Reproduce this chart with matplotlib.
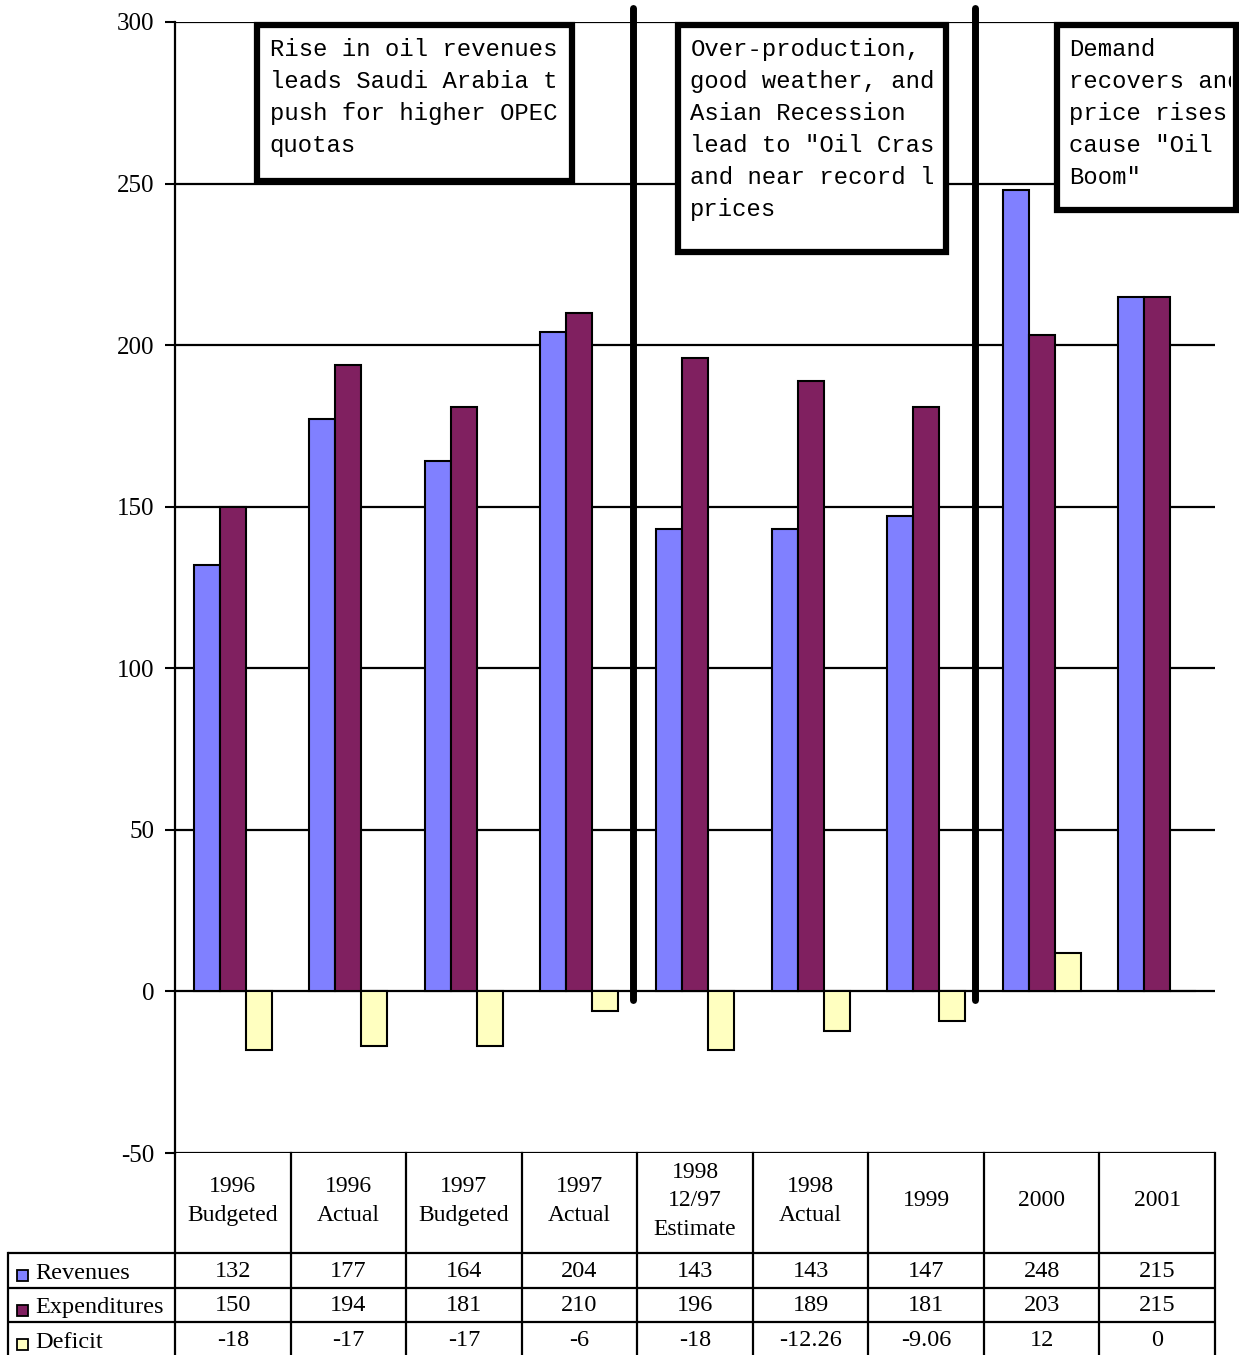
import numpy as np
import matplotlib
matplotlib.use("Agg")
import matplotlib.pyplot as plt
from matplotlib.patches import Rectangle

plt.rcParams['font.family'] = ['Liberation Serif', 'DejaVu Serif']
plt.rcParams['axes.unicode_minus'] = False

# data
categories = ["1996\nBudgeted", "1996\nActual", "1997\nBudgeted", "1997\nActual",
              "1998\n12/97\nEstimate", "1998\nActual", "1999", "2000", "2001"]
revenues = [132, 177, 164, 204, 143, 143, 147, 248, 215]
expenditures = [150, 194, 181, 210, 196, 189, 181, 203, 215]
deficit = [-18, -17, -17, -6, -18, -12.26, -9.06, 12, 0]
series_names = ["Revenues", "Expenditures", "Deficit"]
colors = ["#8080FF", "#802060", "#FFFFC0"]

notes = [
    ["Rise in oil revenues", "leads Saudi Arabia to", "push for higher OPEC", "quotas"],
    ["Over-production,", "good weather, and", "Asian Recession", "lead to \"Oil Crash\"",
     "and near record low", "prices"],
    ["Demand", "recovers and", "price rises", "cause \"Oil", "Boom\""],
]
# note boxes: (x0, x1, y_top, y_bottom) in data units, and where the text gets cut
note_boxes = [(0.21, 2.935, 299.1, 250.8), (3.85, 6.17, 299.1, 228.8), (7.13, 8.685, 299.1, 241.8)]
clip_margin = [0.11, 0.11, 0.05]
dividers = [3.463, 6.423]

W, H = 1239, 1355
fig = plt.figure(figsize=(W / 100, H / 100), dpi=100)
ax = fig.add_axes([175 / W, 1 - 1153 / H, (1215 - 175) / W, (1153 - 22) / H])

x = np.arange(len(categories))
bw = 0.225
ax.bar(x - bw, revenues, bw, color=colors[0], edgecolor="black", linewidth=1.5, zorder=3)
ax.bar(x, expenditures, bw, color=colors[1], edgecolor="black", linewidth=1.5, zorder=3)
ax.bar(x + bw, deficit, bw, color=colors[2], edgecolor="black", linewidth=1.5, zorder=3)

ax.set_xlim(-0.5, len(categories) - 0.5)
ax.set_ylim(-50, 300)
ax.set_yticks(np.arange(-50, 301, 50))
ax.set_xticks([])
ax.tick_params(axis="y", labelsize=18, length=7, width=1.5, pad=8)
for y in np.arange(-50, 301, 50):
    ax.axhline(y, color="black", lw=1.6, zorder=2)
for s in ["top", "right", "bottom"]:
    ax.spines[s].set_visible(False)
ax.spines["left"].set_linewidth(1.6)

for d in dividers:
    ax.plot([d, d], [-2.8, 304.3], color="black", lw=5, solid_capstyle="round",
            clip_on=False, zorder=5)

for lines, (x0, x1, yt, yb), m in zip(notes, note_boxes, clip_margin):
    rect = Rectangle((x0, yb), x1 - x0, yt - yb, facecolor="white", edgecolor="black",
                     lw=4.5, clip_on=False, zorder=6)
    ax.add_patch(rect)
    # text is cut at the right side of each box, as in the original
    inner = Rectangle((x0, yb), x1 - x0 - m, yt - yb, transform=ax.transData,
                      facecolor="none", edgecolor="none")
    for i, line in enumerate(lines):
        t = ax.text(x0 + 0.11, yt - 4.2 - i * 9.9, line, family="Liberation Mono",
                    fontsize=17.2, va="top", ha="left", zorder=7, clip_on=True)
        t.set_clip_path(inner)

# table below the chart
tax = fig.add_axes([8 / W, 0, (1215 - 8) / W, (1355 - 1153) / H])
left_w = 167 / 115.56
tax.set_xlim(-0.5 - left_w, len(categories) - 0.5)
tax.set_ylim(-202, 0)
tax.axis("off")
row_edges = [0, -100, -134.5, -169, -203.5]
lw = 1.6
for i in range(len(categories) + 1):
    tax.plot([i - 0.5, i - 0.5], [row_edges[0], row_edges[-1]], color="black", lw=lw, clip_on=False)
tax.plot([-0.5 - left_w] * 2, [row_edges[1], row_edges[-1]], color="black", lw=lw, clip_on=False)
for r in row_edges[1:4]:
    tax.plot([-0.5 - left_w, len(categories) - 0.5], [r, r], color="black", lw=lw)
for i, c in enumerate(categories):
    tax.text(i, -48, c, ha="center", va="center", fontsize=17, linespacing=1.45)
for r, (name, vals, col) in enumerate(zip(series_names, [revenues, expenditures, deficit], colors)):
    yc = (row_edges[r + 1] + row_edges[r + 2]) / 2
    tax.text(-0.5 - left_w + 0.24, yc - 3, name, ha="left", va="center", fontsize=17.5)
    tax.add_patch(Rectangle((-0.5 - left_w + 0.08, yc - 11), 0.095, 11, facecolor=col,
                            edgecolor="black", lw=1.3))
    for i, v in enumerate(vals):
        tax.text(i, yc - 1, f"{v:g}", ha="center", va="center", fontsize=17.5)

fig.savefig("out.png", dpi=100)
